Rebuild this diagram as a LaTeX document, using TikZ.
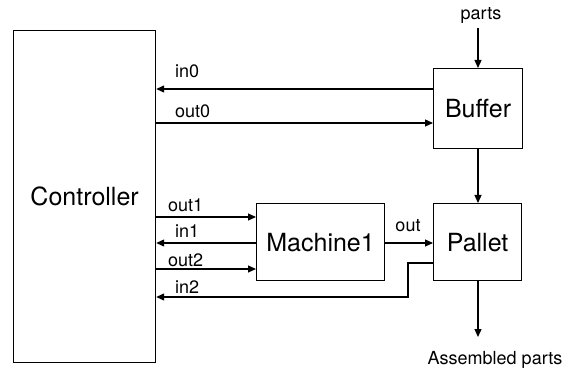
\documentclass[tikz,border=0pt]{standalone}
\usepackage{fontspec}
\setmainfont{TeX Gyre Heros}
\usetikzlibrary{arrows.meta}
\begin{document}
\begin{tikzpicture}[x=1pt,y=-1pt,
  box/.style={draw, line width=1.2pt, inner sep=0pt, anchor=north west, font=\fontsize{25}{29}\selectfont},
  lbl/.style={font=\fontsize{18}{21}\selectfont, inner sep=0pt, anchor=base west},
  conn/.style={line width=1.2pt, -{Triangle[length=8pt,width=7pt]}}]
\useasboundingbox (0,0) rectangle (567,371);
\node[box, minimum width=142pt, minimum height=332pt] (ctrl) at (13,30) {Controller};
\node[box, minimum width=89pt, minimum height=80pt] (buffer) at (433,68) {Buffer};
\node[box, minimum width=88pt, minimum height=77pt] (pallet) at (433,203) {Pallet};
\node[box, minimum width=128pt, minimum height=77pt] (mach) at (256,203) {Machine1};
% labels
\node[lbl, anchor=base] (parts) at (481,20) {parts};
\node[lbl, anchor=base] (asm) at (495,364) {Assembled parts};
\node[lbl] (lin0) at (175,78) {in0};
\node[lbl] (lout0) at (175,118) {out0};
\node[lbl] (lout1) at (168,212) {out1};
\node[lbl] (lin1) at (175,238) {in1};
\node[lbl] (lout2) at (168,266) {out2};
\node[lbl] (lin2) at (175,293) {in2};
\node[lbl, anchor=base] (lout) at (408,232) {out};
% helper coordinates
\coordinate (y0) at (0,89);
\coordinate (y1) at (0,123);
\coordinate (y2) at (0,217);
\coordinate (y3) at (0,243);
\coordinate (y4) at (0,269);
\coordinate (in2a) at (408,263);
\coordinate (in2b) at (408,297);
\coordinate (ps) at (478,28);
\coordinate (ae) at (478,337);
% connectors
\draw[conn] (ps) -- (buffer.north -| ps);
\draw[conn] (buffer.west |- y0) -- (ctrl.east |- y0);
\draw[conn] (ctrl.east |- y1) -- (buffer.west |- y1);
\draw[conn] (buffer.south -| ps) -- (pallet.north -| ps);
\draw[conn] (ctrl.east |- y2) -- (mach.west |- y2);
\draw[conn] (mach.west |- y3) -- (ctrl.east |- y3);
\draw[conn] (ctrl.east |- y4) -- (mach.west |- y4);
\draw[conn] (mach.east |- y3) -- (pallet.west |- y3);
\draw[conn] (pallet.west |- in2a) -- (in2a) -- (in2b) -- (ctrl.east |- in2b);
\draw[conn] (pallet.south -| ae) -- (ae);
\end{tikzpicture}
\end{document}
